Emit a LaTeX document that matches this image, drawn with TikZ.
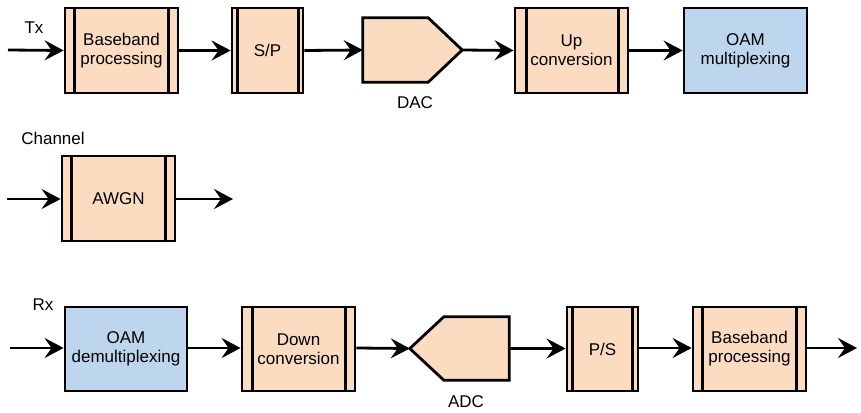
\documentclass[tikz,border=0pt]{standalone}
\usepackage{fontspec}
\setmainfont{Liberation Sans}
\usetikzlibrary{arrows.meta}
\definecolor{peach}{HTML}{FCDCC1}
\definecolor{oamblue}{HTML}{BDD6EE}
\tikzset{
  blk/.style={draw=black, line width=2.8pt, fill=peach, inner sep=0pt,
    align=center, font=\fontsize{17}{19}\selectfont},
  oam/.style={blk, fill=oamblue},
  flow/.style={line width=2.8pt, -{Stealth[length=19pt,width=20pt,inset=7pt]}},
  lbl/.style={font=\fontsize{17}{19}\selectfont, inner sep=0pt},
  conv/.style={inner sep=0pt, minimum height=64pt},
}
% rectangle with a vertical stripe near its left side
\newcommand{\stripebox}[7]{% name, xl, xr, yt, yb, left gap, text
  \node[blk, minimum width={#3-#2}, minimum height={#5-#4}]
    (#1) at ({(#2+#3)/2},{(#4+#5)/2}) {#7};
  \draw[line width=2.8pt] ([xshift=#6]#1.north west) -- ([xshift=#6]#1.south west);
}
% matching stripe near the right side
\newcommand{\rightstripe}[2]{%
  \draw[line width=2.8pt] ([xshift=-#2]#1.north east) -- ([xshift=-#2]#1.south east);
}
\begin{document}
\begin{tikzpicture}[x=1pt, y=-1pt]
\useasboundingbox (0,0) rectangle (861,412);

% ---------- transmitter ----------
\node[lbl] (tx) at (34,28) {Tx};
\coordinate (txin) at (8,50);
\stripebox{bb1}{65}{178}{8}{93}{11pt}{Baseband\\processing}
\rightstripe{bb1}{11pt}
\stripebox{sp}{232}{303}{8}{93}{7pt}{S/P}
\rightstripe{sp}{6pt}
\node[conv, minimum width=99pt] (dac) at (412.5,50) {};
\draw[line width=2.8pt, fill=peach, line join=miter] (dac.north west) -- ([xshift=-34pt]dac.north east)
  -- (dac.east) -- ([xshift=-34pt]dac.south east) -- (dac.south west) -- cycle;
\node[lbl] (daclbl) at (415,103) {DAC};
\stripebox{up}{515}{628}{8}{93}{13pt}{Up\\conversion}
\rightstripe{up}{11pt}
\node[oam, minimum width=123pt, minimum height=85pt] (mux) at (745.5,50.5) {OAM\\multiplexing};

\draw[flow] (txin) -- (bb1.west);
\draw[flow] (bb1.east) -- (sp.west);
\draw[flow] (sp.east) -- (dac.west);
\draw[flow] (dac.east) -- (up.west);
\draw[flow] (up.east) -- (mux.west);

% ---------- channel ----------
\node[lbl] (ch) at (53,138) {Channel};
\coordinate (chin) at (7,199);
\coordinate (chout) at (233,199);
\stripebox{awgn}{62}{175}{156}{241}{11pt}{AWGN}
\rightstripe{awgn}{11pt}
\draw[flow] (chin) -- (awgn.west |- chin);
\draw[flow] (awgn.east |- chout) -- (chout);

% ---------- receiver ----------
\node[lbl] (rx) at (43,305) {Rx};
\coordinate (rxin) at (10,348);
\coordinate (rxout) at (857,348);
\node[oam, minimum width=122pt, minimum height=84pt] (demux) at (126,349) {OAM\\demultiplexing};
\stripebox{down}{242}{355}{307}{391}{12pt}{Down\\conversion}
\rightstripe{down}{11pt}
\node[conv, minimum width=99pt, minimum height=63pt] (adc) at (459.5,348.5) {};
\draw[line width=2.8pt, fill=peach] (adc.north east) -- ([xshift=34pt]adc.north west)
  -- (adc.west) -- ([xshift=34pt]adc.south west) -- (adc.south east) -- cycle;
\node[lbl] (adclbl) at (466,402) {ADC};
\stripebox{ps}{567}{638}{307}{391}{7pt}{P/S}
\rightstripe{ps}{7pt}
\stripebox{bb2}{693}{806}{307}{391}{11pt}{Baseband\\processing}
\rightstripe{bb2}{11pt}

\draw[flow] (rxin) -- (demux.west |- rxin);
\draw[flow] (demux.east |- rxin) -- (down.west |- rxin);
\draw[flow] (down.east |- rxin) -- (adc.west);
\draw[flow] (adc.east) -- (ps.west |- adc.east);
\draw[flow] (ps.east |- rxin) -- (bb2.west |- rxin);
\draw[flow] (bb2.east |- rxin) -- (rxout);
\end{tikzpicture}
\end{document}
